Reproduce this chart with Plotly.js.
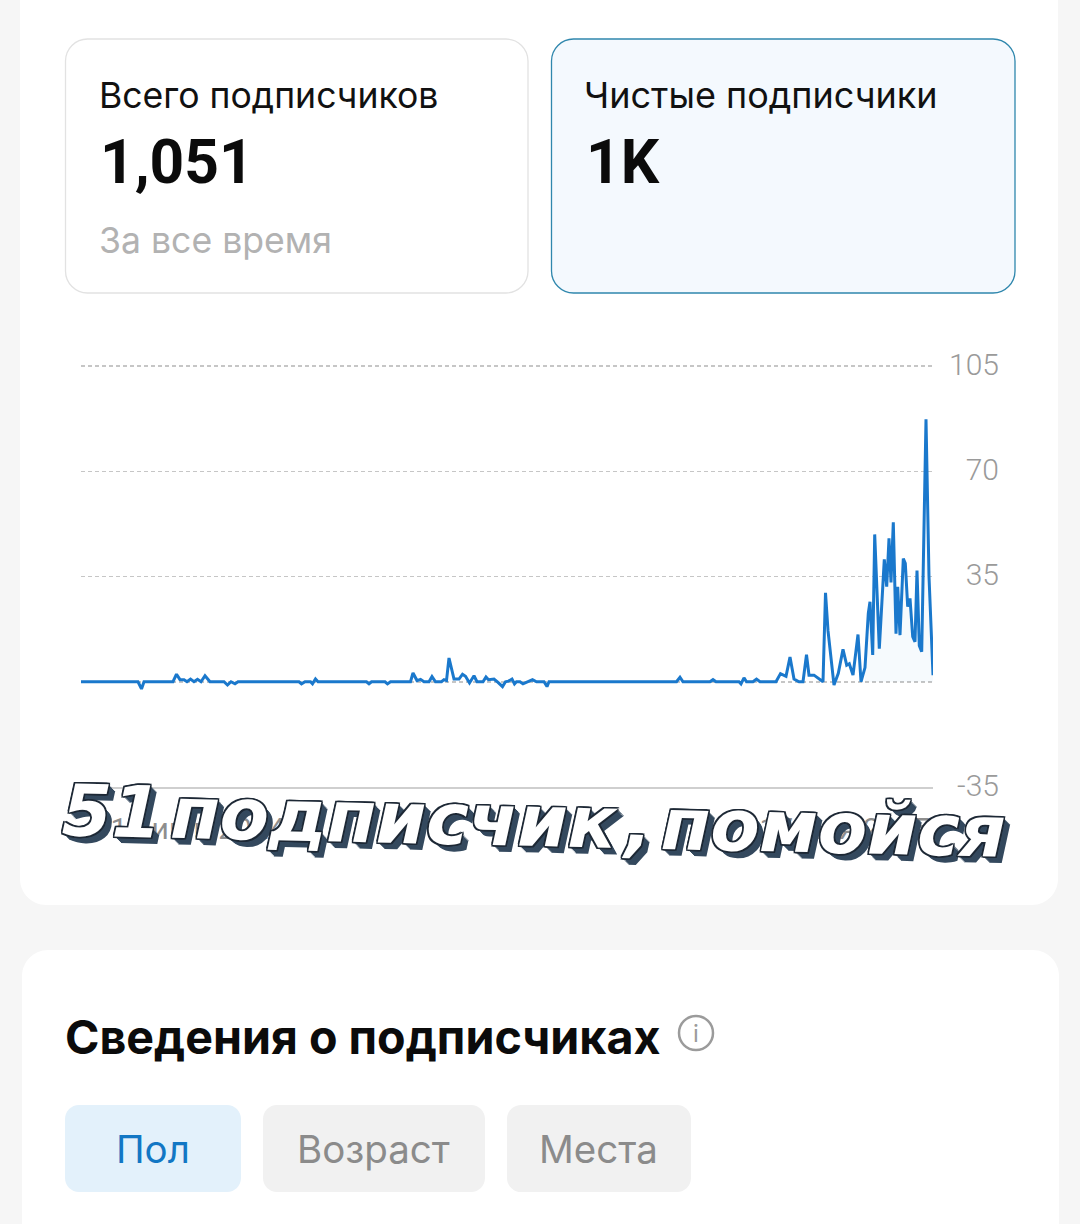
<!DOCTYPE html>
<html><head><meta charset="utf-8">
<script src="https://cdn.plot.ly/plotly-3.0.1.min.js"></script>
<style>html,body{margin:0;padding:0;background:#f6f6f6}#c{width:1080px;height:1224px}
.annotation-text[data-unformatted^="51"]{word-spacing:-16px}</style>
</head><body><div id="c"></div>
<script>
// Time position along the axis (0 = first day of the period, 852 = last) and net subscribers
const timePos = [
 0,57,60.5,63,92,95.5,99,103,106,109.5,
 113,116.5,120,124,129,143,146.5,150,154,157,
 218,220.5,224,229.5,231.5,234.5,237,285.5,288,290.5,
 304,306.5,309.5,329.5,332,336,339.5,343,348,351,
 354.5,360.5,363,365.5,368,373,378,381.5,384.5,388.5,
 393,396,402,405,407.5,413,417,421.5,424.5,427.5,
 431,433.5,435.5,439,442,447,451.5,455.5,463,466,
 468,595.5,599,602,629,632,635,658,660,663,
 665.5,672,675.5,679,695,699.5,705,709,713,718,
 722,725.5,728,733,742,744.5,747,753,757.3,762,
 765.7,768.3,772,777,780,784,787.3,789,791.7,793.7,
 798.3,803.3,805.7,808,810,812.3,815,816.7,819,822.3,
 824.3,826.7,829,831.7,834,836,838.3,840.7,845,848,
 852];
const netSubs = [
 0,0,-2.4,0,0,2.5,0.7,0.7,0,0.9,
 0,0.8,0,2,0,0,-1.1,0,-0.7,0,
 0,-0.7,0,0,-0.7,0.9,0,0,-0.7,0,
 0,-0.7,0,0,2.9,0.4,0.8,0,0,1.7,
 0,0,0.7,0.4,7.9,0.9,0.9,2.5,1.8,-0.4,
 2,0,0,1.6,0.7,0.9,-0.2,-1.6,0,0.2,
 0.9,-0.7,0,0,-0.7,0,0.7,0,0,-1.6,
 0,0,1.5,0,0,0.7,0,0,-0.7,1.3,
 0,0,0.9,0,0,2.7,1.8,8.2,0.9,0,
 0,9,2.2,2.2,0,29.6,17,-1.1,2.8,10.8,
 5.5,6,2.2,15.7,0,4.7,22.7,26.6,8.9,49,
 11,40.7,31.6,47.7,33,53,16,31.6,15.5,41,
 39.4,25,27.7,15,13.3,37,12,10,87.3,35,
 2.2];
const yTicks = [-35,0,35,70,105];
const yTickLabels = ['-35','','35','70','105'];
const xTicks = [117,764];
const xTickLabels = ['10 июн 2024','17 мая 2025'];
const fillFrom = 784;

const W=1080,H=1224;
const px=x=>x/W, py=y=>1-y/H;
function rr(x0,y0,x1,y1,r,fill,line,lw){
  const f=(x,y)=>px(x)+','+py(y);
  const k=0.45*r;
  const path='M'+f(x0+r,y0)+' L'+f(x1-r,y0)+' C'+f(x1-k,y0)+' '+f(x1,y0+k)+' '+f(x1,y0+r)+
    ' L'+f(x1,y1-r)+' C'+f(x1,y1-k)+' '+f(x1-k,y1)+' '+f(x1-r,y1)+
    ' L'+f(x0+r,y1)+' C'+f(x0+k,y1)+' '+f(x0,y1-k)+' '+f(x0,y1-r)+
    ' L'+f(x0,y0+r)+' C'+f(x0,y0+k)+' '+f(x0+k,y0)+' '+f(x0+r,y0)+' Z';
  return {type:'path',xref:'paper',yref:'paper',path,fillcolor:fill,line:{color:line||fill,width:lw||0},layer:'below'};
}
function t(text,x,y,size,color,opts){
  opts=opts||{};
  return {text,xref:'paper',yref:'paper',x:px(x),y:py(y),xanchor:opts.anchor||'left',yanchor:'middle',showarrow:false,
    borderpad:0,align:'left',textangle:opts.angle||0,
    font:Object.assign({family:opts.family||'Inter, sans-serif',size,color,weight:opts.weight||400},opts.font||{})};
}
const dark='#1d2835', ext='#34495e';
const shadow=['-1.5px -1.5px 0 '+dark,'1.5px -1.5px 0 '+dark,'-1.5px 1.5px 0 '+dark,'1.5px 1.5px 0 '+dark,
  '0 -1.5px 0 '+dark,'0 1.5px 0 '+dark,'-1.5px 0 0 '+dark,'1.5px 0 0 '+dark,
  '2.5px 2.5px 0 '+ext,'3.5px 3.5px 0 '+ext,'4.5px 4.5px 0 '+ext,'5.5px 5.5px 0 '+ext,'6.5px 6.5px 0 '+ext].join(',');

const fx=[],fy=[];
timePos.forEach((v,i)=>{if(v>=fillFrom){fx.push(v);fy.push(netSubs[i]);}});

const data=[
 {type:'scatter',mode:'none',x:fx,y:fy,fill:'tozeroy',fillcolor:'rgba(40,130,215,0.045)',hoverinfo:'skip',showlegend:false},
 {type:'scatter',mode:'lines',x:timePos,y:netSubs,line:{color:'#1a78cc',width:3,shape:'linear'},showlegend:false}
];
const layout={
 width:W,height:H,margin:{l:0,r:0,t:0,b:0},paper_bgcolor:'#f6f6f6',plot_bgcolor:'rgba(0,0,0,0)',showlegend:false,
 xaxis:{domain:[px(81),px(933)],range:[0,852],tickmode:'array',tickvals:xTicks,ticktext:xTickLabels,
   showgrid:false,zeroline:false,showline:true,linecolor:'#cfcfcf',linewidth:2,ticks:'',ticklabelstandoff:14,
   tickfont:{family:'Roboto, sans-serif',size:30,color:'#8e8e8e'},anchor:'y'},
 yaxis:{domain:[py(787),py(363)],range:[-35,106],tickmode:'array',tickvals:yTicks,ticktext:yTickLabels,
   anchor:'free',position:px(999),side:'left',ticks:'',ticklen:0,showline:false,zeroline:false,
   showgrid:true,gridcolor:'#c6c6c6',gridwidth:1.5,griddash:'4px,3px',ticklabelshift:-2,
   tickfont:{family:'Roboto, sans-serif',size:30,color:'#9a9a9a',weight:300}},
 shapes:[
  rr(20,-40,1058,905,26,'#ffffff'),
  rr(22,950,1059,1270,26,'#ffffff'),
  rr(65.5,39,528,293,22,'#ffffff','#e2e2e2',1.3),
  rr(551.5,39,1015,293,22,'#f4f9fe','#2f87ad',1.3),
  rr(65,1105,241,1192,14,'#e3f1fb'),
  rr(263,1105,485,1192,14,'#f1f1f1'),
  rr(507,1105,691,1192,14,'#f1f1f1'),
  {type:'circle',xref:'paper',yref:'paper',x0:px(679),x1:px(713),y0:py(1050),y1:py(1016),line:{color:'#9b9b9b',width:2.5},fillcolor:'rgba(0,0,0,0)',layer:'below'}
 ],
 annotations:[
  t('Всего подписчиков',98,95.5,35.6,'#111111'),
  t('1,051',99,163,60.5,'#0b0b0b',{weight:700,family:'Roboto, sans-serif'}),
  t('За все время',98,241,35.6,'#b2b2b2'),
  t('Чистые подписчики',583,95.5,36,'#111111'),
  t('1K',585,163,60.5,'#0b0b0b',{weight:700,family:'Roboto, sans-serif'}),
  t('Сведения о подписчиках',64,1037,46.6,'#0b0b0b',{weight:700}),
  t('i',696,1033,24,'#9b9b9b',{anchor:'center'}),
  t('Пол',153,1149,38.5,'#1277c4',{anchor:'center'}),
  t('Возраст',373.5,1149,38.5,'#8b8b8b',{anchor:'center'}),
  t('Места',598.5,1149,38.5,'#8b8b8b',{anchor:'center'}),
  t('51 подписчик , помойся',534,822,71.5,'#ffffff',{anchor:'center',angle:1.3,family:'"DejaVu Sans", sans-serif',weight:700,font:{style:'italic',shadow}})
 ]
};
Plotly.newPlot('c',data,layout,{staticPlot:true,displayModeBar:false});
</script></body></html>
